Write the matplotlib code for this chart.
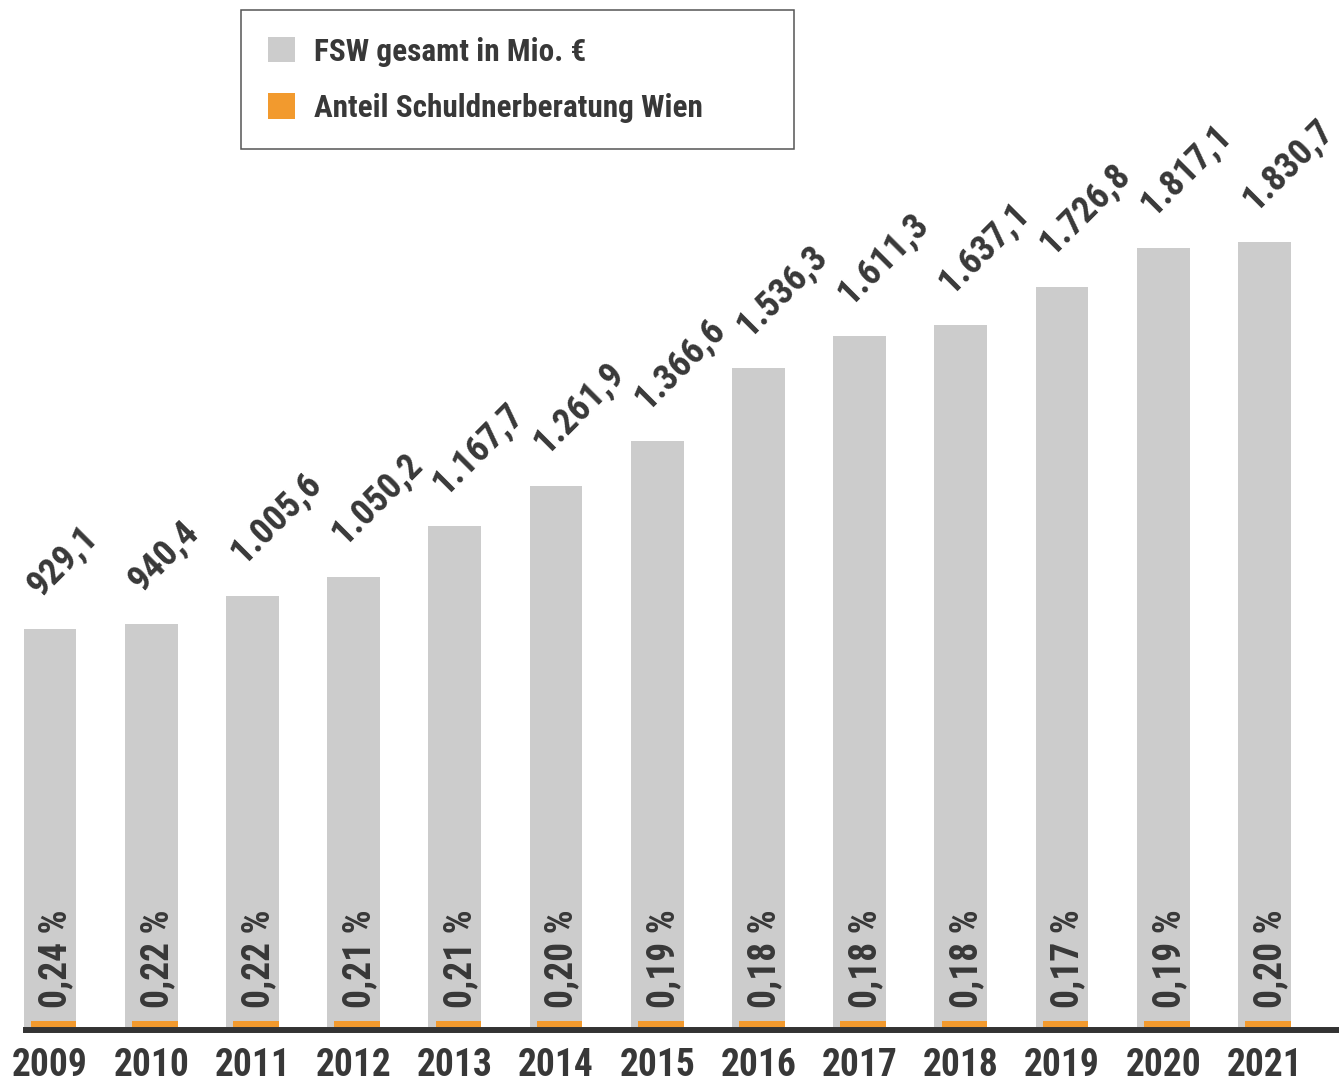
import matplotlib
matplotlib.use("Agg")
import matplotlib.pyplot as plt
from matplotlib.patches import Patch
from matplotlib import font_manager

years = ["2009", "2010", "2011", "2012", "2013", "2014", "2015",
         "2016", "2017", "2018", "2019", "2020", "2021"]
totals = [929.1, 940.4, 1005.6, 1050.2, 1167.7, 1261.9, 1366.6,
          1536.3, 1611.3, 1637.1, 1726.8, 1817.1, 1830.7]
shares = [0.24, 0.22, 0.22, 0.21, 0.21, 0.20, 0.19,
          0.18, 0.18, 0.18, 0.17, 0.19, 0.20]
total_labels = ["929,1", "940,4", "1.005,6", "1.050,2", "1.167,7", "1.261,9", "1.366,6",
                "1.536,3", "1.611,3", "1.637,1", "1.726,8", "1.817,1", "1.830,7"]
share_labels = ["0,24 %", "0,22 %", "0,22 %", "0,21 %", "0,21 %", "0,20 %", "0,19 %",
                "0,18 %", "0,18 %", "0,18 %", "0,17 %", "0,19 %", "0,20 %"]
legend_labels = ["FSW gesamt in Mio. €", "Anteil Schuldnerberatung Wien"]

avail = {f.name for f in font_manager.fontManager.ttflist}
fams = [f for f in ["Roboto Condensed", "Liberation Sans Narrow", "Liberation Sans", "DejaVu Sans"] if f in avail]
plt.rcParams['font.family'] = fams
plt.rcParams['font.weight'] = 'bold'

GRAY = "#cccccc"
ORANGE = "#f29a2e"
TXT = "#383838"

W, H = 1339, 1088
fig = plt.figure(figsize=(W / 100, H / 100), dpi=100)
base_px = 1027
ax = fig.add_axes([0, (H - base_px) / H, 1, base_px / H])
px_per_unit = 0.4288
ax.set_ylim(0, base_px / px_per_unit)
x0 = 50
step = 101.2
ax.set_xlim(-x0 / step, (W - x0) / step)

xs = list(range(len(years)))
ax.bar(xs, totals, width=0.52, color=GRAY, zorder=1)
# orange share marker (shown with a small fixed visible height, right aligned)
mark_h = [6 / px_per_unit for s in shares]
ax.bar([x + 0.035 for x in xs], mark_h, width=0.45, color=ORANGE, zorder=2)

for x, v, lab in zip(xs, totals, total_labels):
    ax.annotate(lab, (x, v), xytext=(-7, 22), textcoords='offset points',
                rotation=45, rotation_mode='anchor', ha='left', va='baseline',
                fontsize=26.5, color=TXT, fontweight='bold')

for x, lab in zip(xs, share_labels):
    ax.annotate(lab, (x, 0), xytext=(4.5, 13.5), textcoords='offset points',
                rotation=90, ha='center', va='bottom',
                fontsize=27, color=TXT, fontweight='bold')

for s in ['top', 'right', 'left']:
    ax.spines[s].set_visible(False)
ax.spines['bottom'].set_position(('outward', 2.2))
ax.spines['bottom'].set_linewidth(4.3)
ax.spines['bottom'].set_color("#333333")
ax.spines['bottom'].set_bounds(-24 / step, (W - x0) / step)
ax.set_yticks([])
ax.set_xticks(xs)
ax.set_xticklabels(years, fontsize=27, color=TXT, fontweight='bold')
ax.tick_params(axis='x', length=0, pad=12)

handles = [Patch(facecolor=GRAY, edgecolor='none'), Patch(facecolor=ORANGE, edgecolor='none')]
leg = fig.legend(handles, legend_labels, loc='upper left',
                 bbox_to_anchor=(241 / W, 1 - 149 / H, (794 - 241) / W, (149 - 10) / H),
                 mode='expand', borderaxespad=0,
                 prop={'weight': 'bold', 'size': 22.5},
                 handlelength=0.87, handleheight=0.87, handletextpad=0.6,
                 borderpad=0.85, labelspacing=0.84, fancybox=False, framealpha=1,
                 edgecolor="#555555")
leg.get_frame().set_linewidth(1.1)
for t in leg.get_texts():
    t.set_color(TXT)

fig.savefig("out.png", dpi=100)
